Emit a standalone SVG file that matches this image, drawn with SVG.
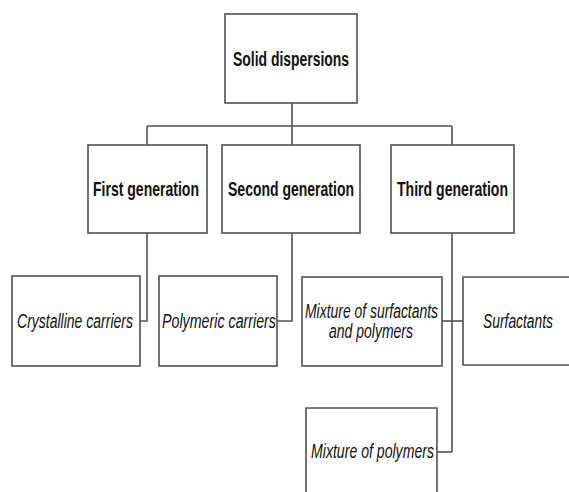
<svg xmlns="http://www.w3.org/2000/svg" width="569" height="492" viewBox="0 0 569 492">
<style>
rect,.box{fill:#fff;stroke:#505050;stroke-width:1.6}
.c line,.c polyline{fill:none;stroke:#505050;stroke-width:1.6}
text{font-family:"Liberation Sans",Arial,sans-serif;fill:#111;text-anchor:middle}
.b{font-weight:bold;font-size:20px}
.i{font-style:italic;font-size:19.5px}
</style>
<rect x="0" y="0" width="569" height="492" style="fill:#fff;stroke:none"/>
<g class="c" id="connectors">
<line x1="292" y1="103" x2="292" y2="145"/>
<line x1="147" y1="126" x2="452" y2="126"/>
<line x1="147" y1="126" x2="147" y2="145"/>
<line x1="452" y1="126" x2="452" y2="145"/>
<polyline points="147,233 147,321 140,321"/>
<polyline points="292,233 292,321 277,321"/>
<line x1="452" y1="233" x2="452" y2="452"/>
<line x1="442" y1="321" x2="463" y2="321"/>
<line x1="437" y1="452" x2="452" y2="452"/>
</g>
<g id="solid"><rect x="225" y="14" width="132" height="89"/><text class="b" transform="translate(291,66) scale(0.7,1)" style="font-size:20.5px" textLength="165.7" lengthAdjust="spacingAndGlyphs">Solid dispersions</text></g>
<g id="first"><rect x="88" y="145" width="119" height="88"/><text class="b" transform="translate(146,195.5) scale(0.7,1)" textLength="151.4" lengthAdjust="spacingAndGlyphs">First generation</text></g>
<g id="second"><rect x="222" y="145" width="138" height="88"/><text class="b" transform="translate(291,195.5) scale(0.7,1)" textLength="180" lengthAdjust="spacingAndGlyphs">Second generation</text></g>
<g id="third"><rect x="391" y="145" width="123" height="88"/><text class="b" transform="translate(452.5,195.5) scale(0.7,1)" textLength="158.6" lengthAdjust="spacingAndGlyphs">Third generation</text></g>
<g id="crystalline"><rect x="12" y="276" width="128" height="90"/><text class="i" transform="translate(75,328) scale(0.72,1)" textLength="161.1" lengthAdjust="spacingAndGlyphs">Crystalline carriers</text></g>
<g id="polymeric"><rect x="159" y="276" width="118" height="90"/><text class="i" transform="translate(219,328) scale(0.72,1)" textLength="158.3" lengthAdjust="spacingAndGlyphs">Polymeric carriers</text></g>
<g id="mixsurf"><rect x="302" y="277" width="140" height="89"/><text class="i" transform="translate(371.5,318) scale(0.72,1)" textLength="184.7" lengthAdjust="spacingAndGlyphs">Mixture of surfactants</text><text class="i" transform="translate(371,338) scale(0.72,1)" textLength="116.7" lengthAdjust="spacingAndGlyphs">and polymers</text></g>
<g id="surfactants"><path class="box" d="M569,277 H463 V365 H569"/><text class="i" transform="translate(518,328) scale(0.72,1)" textLength="97.2" lengthAdjust="spacingAndGlyphs">Surfactants</text></g>
<g id="mixpoly"><path class="box" d="M306,492 V408 H437 V492"/><text class="i" transform="translate(372.5,458) scale(0.72,1)" textLength="170.8" lengthAdjust="spacingAndGlyphs">Mixture of polymers</text></g>
</svg>
